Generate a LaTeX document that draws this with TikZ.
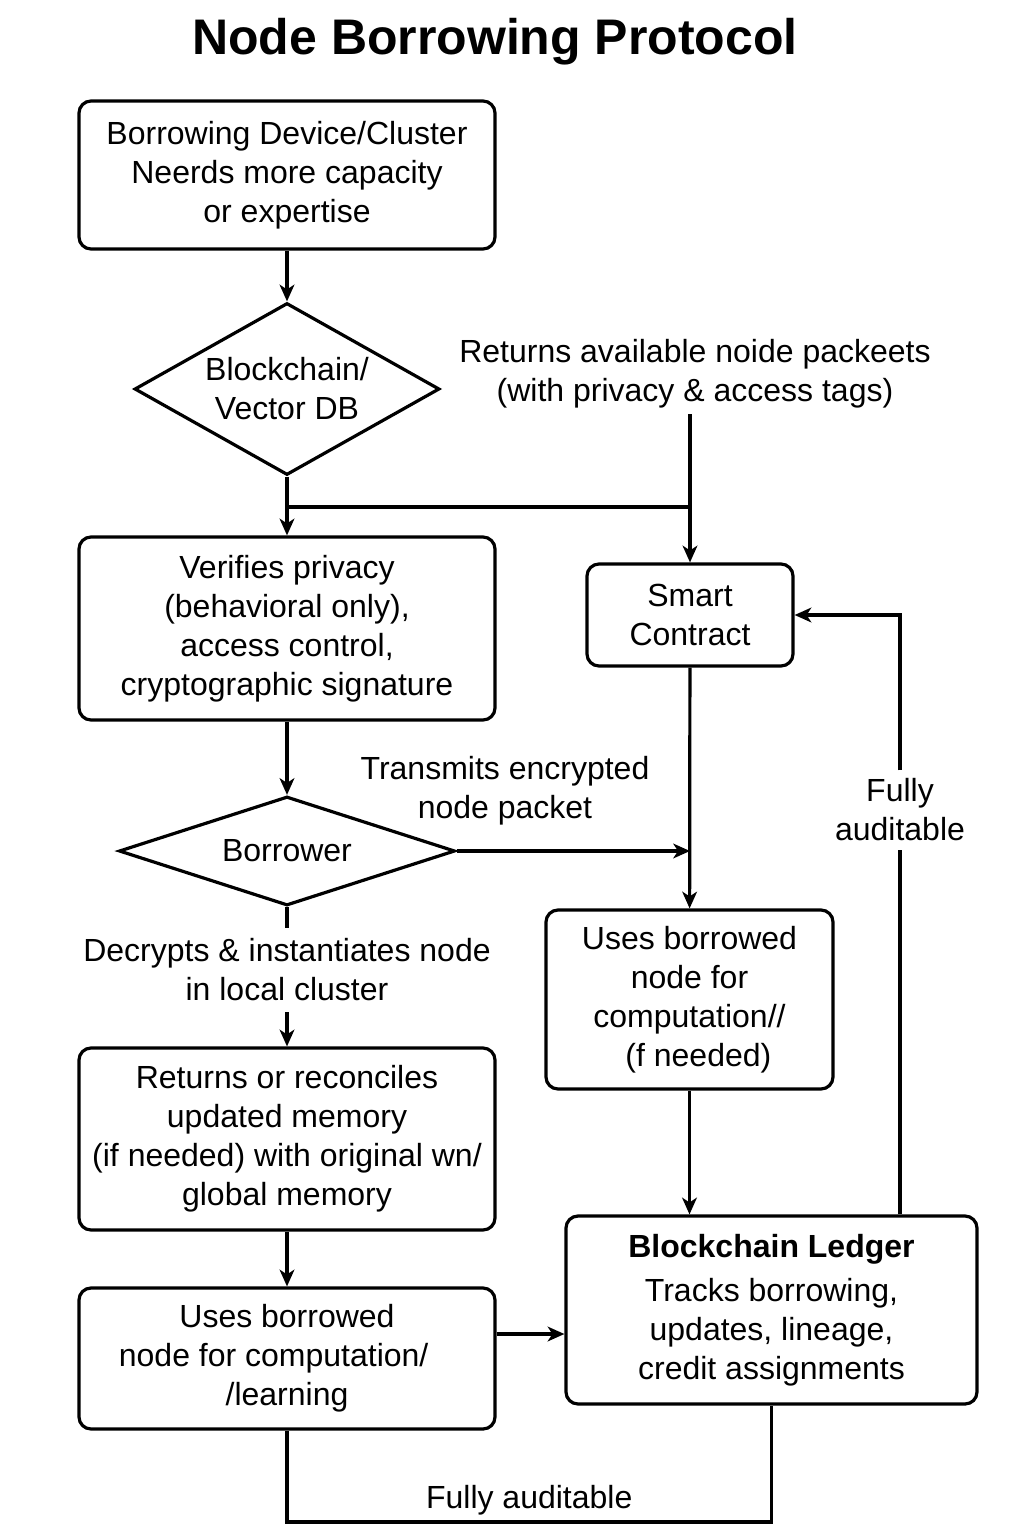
\documentclass[tikz,border=0pt]{standalone}
\usepackage{fontspec}
\setmainfont{Liberation Sans}
\usetikzlibrary{arrows.meta, positioning, shapes.geometric}

\begin{document}
\begin{tikzpicture}[x=0.75pt, y=-0.75pt, line width=2.4pt,
  >={Stealth[length=12.5pt, width=11pt, inset=3.5pt]},
  every node/.style={font=\fontsize{24}{29.25}\selectfont, align=center},
  procbox/.style={draw, rounded corners=9pt, inner sep=0pt},
  decide/.style={draw, diamond, inner sep=0pt},
  lbl/.style={inner sep=3pt}]
\useasboundingbox (0,0) rectangle (1024,1536);

% title
\node (title) at (495,42) {\fontsize{37.5}{40}\selectfont\bfseries Node Borrowing Protocol};

% left column
\node[procbox, minimum width=312pt, minimum height=111pt] (need) at (287,175)
  {Borrowing Device/Cluster\\ Neerds more capacity\\ or expertise};
\node[decide, aspect=1.77, minimum width=228.75pt, minimum height=129pt] (db) at (287,389)
  {Blockchain/\\ Vector DB};
\node[procbox, minimum width=312pt, minimum height=137.25pt] (verify) at (287,628.5)
  {Verifies privacy\\ (behavioral only),\\ access control,\\ cryptographic signature};
\node[decide, aspect=3.08, minimum width=252pt, minimum height=81.75pt] (borrower) at (287,851)
  {Borrower};
\node[lbl, inner sep=7pt] (decrypt) at (287,970)
  {Decrypts \& instantiates node\\ in local cluster};
\node[procbox, minimum width=312pt, minimum height=136.5pt] (reconcile) at (287,1139)
  {Returns or reconciles\\ updated memory\\ (if needed) with original wn/\\ global memory};
\node[procbox, minimum width=312pt, minimum height=105.75pt] (useleft) at (287,1358.5)
  {Uses borrowed\\ node for computation/\hphantom{m}\\ /learning};

% right column
\node[procbox, minimum width=154.5pt, minimum height=76.5pt] (contract) at (690,615)
  {Smart\\ Contract};
\node[procbox, minimum width=215.25pt, minimum height=134.25pt] (useright) at (689.5,999.5)
  {Uses borrowed\\ node for\\ computation//\\ \hphantom{n}(f needed)};
\node[procbox, minimum width=308.25pt, minimum height=141pt] (ledger) at (771.5,1310)
  {\textbf{Blockchain Ledger}\\[4pt] Tracks borrowing,\\ updates, lineage,\\ credit assignments};

% labels
\node[lbl] (returns) at (695,374)
  {Returns available noide packeets\\ (with privacy \& access tags)};
\node[lbl] (transmit) at (505,791)
  {Transmits encrypted\\ node packet};
\node[lbl, inner sep=5pt] (audit) at (900,810) {Fully\\ auditable};
\coordinate (bot) at (0,1522);
\coordinate (join) at (0,507);
\coordinate (side) at (0,1334);

% connectors
\draw[->] (need) -- (db);
\draw[->] (db) -- (verify);
\draw (db.south |- join) -- (contract.north |- join);
\draw[->] (contract.north |- returns.south) -- (contract.north);
\draw[->] (verify) -- (borrower);
\draw[->] (borrower.east) -- (borrower.east -| contract.south);
\draw (borrower.south) -- (decrypt.north);
\draw[->] (decrypt.south) -- (reconcile.north);
\draw[->] (reconcile) -- (useleft);
\draw[->] (contract) -- (useright);
\draw[->] (useright.south) -- (ledger.north -| useright.south);
\draw[->] (useleft.east |- side) -- (ledger.west |- side);
\draw (ledger.north -| audit.south) -- (audit.south);
\draw[->] (audit.north) |- (contract.east);
\draw (useleft.south) -- (useleft.south |- bot) -- (ledger.south |- bot)
  node[midway, above, lbl, inner sep=4pt] (auditbot) {Fully auditable} -- (ledger.south);
\end{tikzpicture}
\end{document}
